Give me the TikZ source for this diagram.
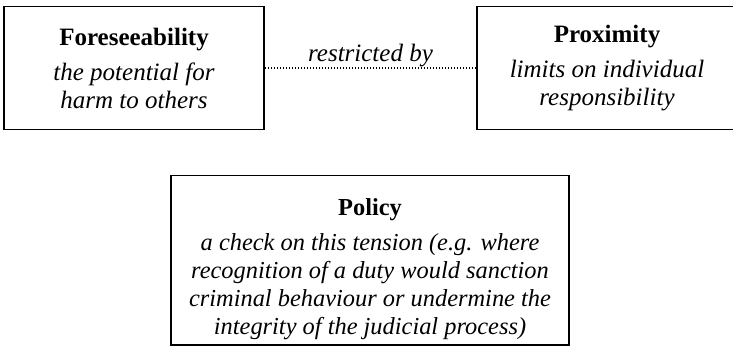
\documentclass[tikz,border=0pt]{standalone}
\usepackage{fontspec}
\setmainfont{Liberation Serif}
\usetikzlibrary{positioning}

\begin{document}
\begin{tikzpicture}[x=1pt,y=1pt,font=\fontsize{12.5}{14}\selectfont]
\tikzstyle{every node}+=[inner sep=0pt]
\tikzstyle{idea}=[draw=black, line width=0.8pt, align=center]
\useasboundingbox (0,0) rectangle (366.5,-173);
% the two ideas
\node [idea, minimum width=130pt, minimum height=61.5pt] (fore) at (67,-34)
  {\textbf{Foreseeability}\\[3.5pt] \textit{the potential for}\\ \textit{harm to others}};
\node [idea, minimum width=130pt, minimum height=61.5pt] (prox) at (303.5,-34)
  {\textbf{Proximity}\\[3.5pt] \textit{limits on individual}\\ \textit{responsibility}};
\draw [black, line width=0.6pt, dash pattern=on 0.5pt off 1pt] (fore.east) -- (prox.west)
  node [midway, above=0pt] {\textit{restricted by}};
% the check
\node [idea, minimum width=199pt, minimum height=84.75pt, font=\fontsize{12.2}{14}\selectfont] (policy) at (185,-130.1)
  {\rule{0pt}{17pt}\textbf{Policy}\\[3.5pt]
   \textit{a check on this tension (e.g. where}\\
   \textit{recognition of a duty would sanction}\\
   \textit{criminal behaviour or undermine the}\\
   \textit{integrity of the judicial process)}};
\end{tikzpicture}
\end{document}
